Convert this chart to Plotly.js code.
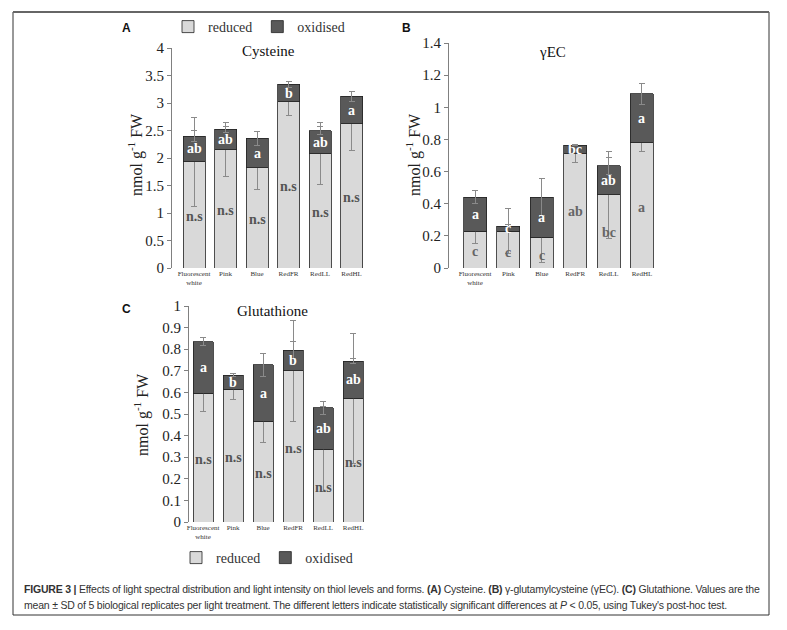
<!DOCTYPE html>
<html>
<head>
<meta charset="utf-8">
<script src="https://cdn.plot.ly/plotly-3.0.1.min.js"></script>
<style>html,body{margin:0;padding:0;background:#fff}#chart{width:787px;height:630px}</style>
</head>
<body>
<div id="chart"></div>
<script>
// ---------- data ----------
const categories = ['Fluorescent<br>white', 'Pink', 'Blue', 'RedFR', 'RedLL', 'RedHL'];

// Cysteine (A)
const cysReduced     = [1.93, 2.15, 1.82, 3.02, 2.08, 2.62];
const cysOxidised    = [0.47, 0.37, 0.54, 0.32, 0.42, 0.50];
const cysReducedSD   = [0.81, 0.49, 0.39, 0.25, 0.56, 0.49];
const cysOxidisedSD  = [0.10, 0.05, 0.13, 0.05, 0.07, 0.09];
const cysOxLetters   = ['ab', 'ab', 'a', 'b', 'ab', 'a'];
const cysRedLetters  = ['n.s', 'n.s', 'n.s', 'n.s', 'n.s', 'n.s'];
const cysRedLetterY  = [0.93, 1.04, 0.89, 1.48, 1.00, 1.28];

// gamma-glutamylcysteine (B)
const gecReduced     = [0.23, 0.23, 0.19, 0.71, 0.455, 0.78];
const gecOxidised    = [0.21, 0.03, 0.25, 0.055, 0.18, 0.305];
const gecReducedSD   = [0.08, 0.14, 0.155, 0.055, 0.27, 0.055];
const gecOxidisedSD  = [0.04, 0.01, 0.115, 0.005, 0.055, 0.065];
const gecOxLetters   = ['a', 'c', 'a', 'bc', 'ab', 'a'];
const gecRedLetters  = ['c', 'c', 'c', 'ab', 'bc', 'a'];
const gecRedLetterY  = [0.104, 0.098, 0.077, 0.349, 0.222, 0.378];

// Glutathione (C)
const gshReduced     = [0.597, 0.615, 0.467, 0.70, 0.337, 0.572];
const gshOxidised    = [0.238, 0.065, 0.26, 0.095, 0.191, 0.173];
const gshReducedSD   = [0.085, 0.05, 0.097, 0.233, 0.197, 0.30];
const gshOxidisedSD  = [0.017, 0.007, 0.053, 0.04, 0.03, 0.01];
const gshOxLetters   = ['a', 'b', 'a', 'b', 'ab', 'ab'];
const gshRedLetters  = ['n.s', 'n.s', 'n.s', 'n.s', 'n.s', 'n.s'];
const gshRedLetterY  = [0.288, 0.298, 0.226, 0.34, 0.16, 0.275];

const seriesNames = ['reduced', 'oxidised'];
const panelTitles = ['Cysteine', 'γEC', 'Glutathione'];
const yTitle = 'nmol g<sup>-1</sup> FW';
const captionLine1 = '<b>FIGURE 3 |</b> Effects of light spectral distribution and light intensity on thiol levels and forms. <b>(A)</b> Cysteine. <b>(B)</b> γ-glutamylcysteine (γEC). <b>(C)</b> Glutathione. Values are the';
const captionLine2 = 'mean ± SD of 5 biological replicates per light treatment. The different letters indicate statistically significant differences at <i>P</i> < 0.05, using Tukey\'s post-hoc test.';

// ---------- styles ----------
const W = 787, H = 630;
const px = v => v / W;
const py = v => 1 - v / H;
const SERIF = 'Liberation Serif';
const SANS = 'Liberation Sans';
const redColor = '#d9d9d9';
const oxColor = '#595959';
const errStyle = {color: '#8a8a8a', thickness: 1, width: 3};

function barPair(xa, ya, red, ox, redSD, oxSD, legendName, showLeg, w) {
  return [
    {type: 'bar', name: seriesNames[0], x: categories, y: red, xaxis: xa, yaxis: ya,
     width: w, marker: {color: redColor, line: {color: '#222', width: 0.8}},
     error_y: Object.assign({type: 'data', array: redSD, visible: true}, errStyle),
     legend: legendName, showlegend: showLeg, hoverinfo: 'y'},
    {type: 'bar', name: seriesNames[1], x: categories, y: ox, xaxis: xa, yaxis: ya,
     width: w, marker: {color: oxColor, line: {color: '#222', width: 0.8}},
     error_y: Object.assign({type: 'data', array: oxSD, visible: true}, errStyle),
     legend: legendName, showlegend: showLeg, hoverinfo: 'y'}
  ];
}

const data = [].concat(
  barPair('x', 'y', cysReduced, cysOxidised, cysReducedSD, cysOxidisedSD, 'legend', true, 0.7),
  barPair('x2', 'y2', gecReduced, gecOxidised, gecReducedSD, gecOxidisedSD, 'legend', false, 0.69),
  barPair('x3', 'y3', gshReduced, gshOxidised, gshReducedSD, gshOxidisedSD, 'legend2', true, 0.67)
);

function xAxis(extra) {
  return Object.assign({type: 'category', showline: false, ticks: '', showgrid: false, zeroline: false,
    tickfont: {family: SERIF, size: 7, color: '#333'}, fixedrange: true}, extra);
}
function yAxis(extra) {
  return Object.assign({showline: true, linecolor: '#808080', linewidth: 1, ticks: 'outside', ticklen: 4,
    tickcolor: '#808080', showgrid: false, zeroline: false,
    tickfont: {family: SERIF, size: 15, color: '#222'}, fixedrange: true}, extra);
}

const annotations = [];
function letterAnns(xref, yref, red, ox, oxLetters, redLetters, redY, redColorTxt) {
  categories.forEach((c, i) => {
    annotations.push({xref, yref, x: c, y: red[i] + ox[i] / 2, text: '<b>' + oxLetters[i] + '</b>',
      showarrow: false, font: {family: SERIF, size: 14, color: '#ffffff'}});
    annotations.push({xref, yref, x: c, y: redY[i], text: '<b>' + redLetters[i] + '</b>',
      showarrow: false, font: {family: SERIF, size: 14, color: redColorTxt}});
  });
}
letterAnns('x', 'y', cysReduced, cysOxidised, cysOxLetters, cysRedLetters, cysRedLetterY, '#555');
letterAnns('x2', 'y2', gecReduced, gecOxidised, gecOxLetters, gecRedLetters, gecRedLetterY, '#666');
letterAnns('x3', 'y3', gshReduced, gshOxidised, gshOxLetters, gshRedLetters, gshRedLetterY, '#555');

// panel titles
[[268, 51, 0], [552, 52, 1], [272, 311, 2]].forEach(p => annotations.push({
  xref: 'paper', yref: 'paper', x: px(p[0]), y: py(p[1]), text: panelTitles[p[2]], showarrow: false,
  xanchor: 'center', yanchor: 'middle', font: {family: SERIF, size: 15, color: '#111'}}));
// y titles
[[135, 155], [413, 155], [141, 415]].forEach(p => annotations.push({
  xref: 'paper', yref: 'paper', x: px(p[0]), y: py(p[1]), text: yTitle, textangle: -90, showarrow: false,
  xanchor: 'center', yanchor: 'middle', font: {family: SERIF, size: 16, color: '#222'}}));
// panel letters
[['A', 126, 28], ['B', 406, 28], ['C', 126, 309]].forEach(p => annotations.push({
  xref: 'paper', yref: 'paper', x: px(p[1]), y: py(p[2]), text: '<b>' + p[0] + '</b>', showarrow: false,
  xanchor: 'center', yanchor: 'middle', font: {family: SANS, size: 12, color: '#111'}}));
// caption
[[captionLine1, 589], [captionLine2, 605]].forEach(p => annotations.push({
  xref: 'paper', yref: 'paper', x: px(22), y: py(p[1]), xanchor: 'left', yanchor: 'middle',
  align: 'left', showarrow: false,
  text: '<span style="letter-spacing:-0.2px">' + p[0] + '</span>',
  font: {family: SANS, size: 10.5, color: '#333'}}));

const layout = {
  width: W, height: H, margin: {l: 0, r: 0, t: 0, b: 0}, paper_bgcolor: '#fff', plot_bgcolor: 'rgba(0,0,0,0)',
  barmode: 'stack', showlegend: true,
  xaxis:  xAxis({domain: [px(172), px(372)], range: [-0.7, 5.65], anchor: 'y'}),
  yaxis:  yAxis({domain: [py(268), py(48)], range: [0, 4], dtick: 0.5, anchor: 'x'}),
  xaxis2: xAxis({domain: [px(449), px(668)], range: [-0.78, 5.78], anchor: 'y2'}),
  yaxis2: yAxis({domain: [py(268), py(43)], range: [0, 1.4], dtick: 0.2, anchor: 'x2'}),
  xaxis3: xAxis({domain: [px(189), px(369)], range: [-0.47, 5.53], anchor: 'y3'}),
  yaxis3: yAxis({domain: [py(522), py(306)], range: [0, 1], dtick: 0.1, anchor: 'x3'}),
  legend: {orientation: 'h', x: px(259), xanchor: 'center', y: py(27), yanchor: 'middle',
    font: {family: SERIF, size: 14, color: '#333'}, bgcolor: 'rgba(0,0,0,0)', itemwidth: 30,
    traceorder: 'normal'},
  legend2: {orientation: 'h', x: px(267), xanchor: 'center', y: py(558), yanchor: 'middle',
    font: {family: SERIF, size: 14, color: '#333'}, bgcolor: 'rgba(0,0,0,0)', itemwidth: 30,
    traceorder: 'normal'},
  annotations: annotations,
  shapes: [
    {type: 'rect', xref: 'paper', yref: 'paper', x0: px(13), x1: px(769), y0: py(615), y1: py(12),
     line: {color: '#333', width: 1}},
    {type: 'line', xref: 'paper', yref: 'paper', x0: px(13), x1: px(769), y0: py(12), y1: py(12),
     line: {color: '#666', width: 2}}
  ]
};

Plotly.newPlot('chart', data, layout, {staticPlot: true, displayModeBar: false});
</script>
</body>
</html>
